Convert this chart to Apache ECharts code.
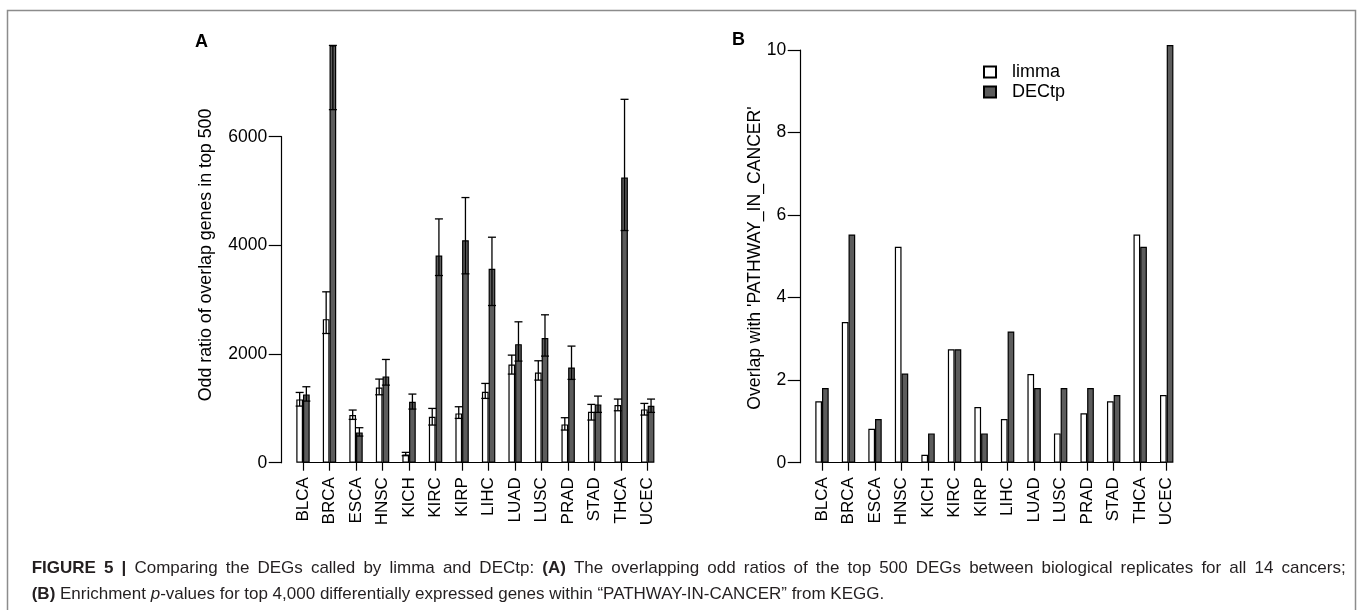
<!DOCTYPE html>
<html>
<head>
<meta charset="utf-8">
<script src="https://cdn.jsdelivr.net/npm/echarts@6/dist/echarts.min.js"></script>
<style>
  html, body { margin: 0; padding: 0; background: #fff; }
  #main { width: 1357px; height: 610px; }
</style>
</head>
<body>
<div id="main"></div>
<script>
// 癌症类型
var cancers = ['BLCA', 'BRCA', 'ESCA', 'HNSC', 'KICH', 'KIRC', 'KIRP', 'LIHC', 'LUAD', 'LUSC', 'PRAD', 'STAD', 'THCA', 'UCEC'];

// A: odd ratio (均值 + 误差上下限)
var oddLimma     = [1165, 2642, 877, 1385, 153, 846, 907, 1306, 1808, 1661, 705, 938, 1060, 981];
var oddLimmaLow  = [1042, 2378, 797, 1250, 129, 693, 815, 1183, 1631, 1520, 601, 785, 956, 877];
var oddLimmaHigh = [1293, 3145, 969, 1539, 190, 999, 1030, 1459, 1980, 1876, 828, 1073, 1171, 1091];
var oddDectp     = [1257, 7680, 558, 1588, 1122, 3813, 4095, 3568, 2182, 2293, 1753, 1073, 5247, 1048];
var oddDectpLow  = [1134, 6498, 490, 1428, 987, 3445, 3476, 2893, 1870, 1962, 1533, 926, 4273, 926];
var oddDectpHigh = [1398, 7680, 644, 1900, 1263, 4487, 4880, 4150, 2593, 2722, 2146, 1226, 6688, 1171];

// B: overlap with PATHWAY_IN_CANCER
var pathLimma = [1.49, 3.41, 0.82, 5.23, 0.19, 2.75, 1.35, 1.06, 2.15, 0.71, 1.20, 1.49, 5.53, 1.64];
var pathDectp = [1.81, 5.53, 1.06, 2.16, 0.71, 2.75, 0.71, 3.18, 1.81, 1.81, 1.81, 1.64, 5.23, 10.12];

var FONT = 'Liberation Sans, Arial, Helvetica, sans-serif';
var BAR_W = 6.7;

function xAxisOf(gridIndex) {
    return {
        type: 'category',
        gridIndex: gridIndex,
        data: cancers,
        boundaryGap: false,
        offset: 3.5,
        axisLine: { lineStyle: { color: '#000', width: 1.2 } },
        axisTick: { length: 8, interval: 0, lineStyle: { color: '#000', width: 1.2 } },
        axisLabel: { interval: 0, rotate: 90, margin: 11, color: '#000', fontSize: 17, fontFamily: FONT },
        splitLine: { show: false }
    };
}

function yAxisOf(gridIndex, max, interval) {
    return {
        type: 'value',
        gridIndex: gridIndex,
        min: 0,
        max: max,
        interval: interval,
        offset: 21.3,
        axisLine: { show: true, lineStyle: { color: '#000', width: 1.2 } },
        axisTick: { show: true, length: 13, lineStyle: { color: '#000', width: 1.2 } },
        axisLabel: {
            margin: 14.5, color: '#000', fontSize: 17.5, fontFamily: FONT,
            formatter: function (v) { return String(v); }
        },
        splitLine: { show: false }
    };
}

function barSeries(name, axisIdx, values, fill) {
    return {
        name: name,
        type: 'bar',
        xAxisIndex: axisIdx,
        yAxisIndex: axisIdx,
        data: values,
        barWidth: BAR_W,
        barGap: '0%',
        clip: false,
        animation: false,
        itemStyle: { color: fill, borderColor: '#000', borderWidth: 1.2 },
        emphasis: { disabled: true }
    };
}

// 误差线: 竖线 + 上下横帽
function errorSeries(axisIdx, low, high, offset) {
    return {
        type: 'custom',
        xAxisIndex: axisIdx,
        yAxisIndex: axisIdx,
        clip: false,
        z: 5,
        animation: false,
        encode: { x: 0, y: [1, 2] },
        data: cancers.map(function (c, i) { return [i, low[i], high[i]]; }),
        renderItem: function (params, api) {
            var lo = api.coord([api.value(0), api.value(1)]);
            var hi = api.coord([api.value(0), api.value(2)]);
            var x = lo[0] + offset;
            var st = { stroke: '#000', lineWidth: 1.3 };
            return {
                type: 'group',
                children: [
                    { type: 'line', shape: { x1: x, y1: hi[1], x2: x, y2: lo[1] }, style: st },
                    { type: 'line', shape: { x1: x - 4, y1: hi[1], x2: x + 4, y2: hi[1] }, style: st },
                    { type: 'line', shape: { x1: x - 4, y1: lo[1], x2: x + 4, y2: lo[1] }, style: st }
                ]
            };
        }
    };
}

// 图注: 第一行两端对齐
var CAP_SIZE = 17;
var CAP_COLOR = '#231f20';
var capRich = {
    b: { fontSize: CAP_SIZE, fontWeight: 'bold', fontFamily: FONT, fill: CAP_COLOR },
    n: { fontSize: CAP_SIZE, fontFamily: FONT, fill: CAP_COLOR },
    i: { fontSize: CAP_SIZE, fontStyle: 'italic', fontFamily: FONT, fill: CAP_COLOR }
};
var measureCtx = document.createElement('canvas').getContext('2d');
function capFont(st) {
    return (st === 'b' ? 'bold ' : st === 'i' ? 'italic ' : '') + CAP_SIZE + 'px ' + FONT;
}
function justifyLine(parts, target) {
    var words = [];
    parts.forEach(function (p) {
        p[1].split(' ').forEach(function (w) { if (w) words.push([p[0], w]); });
    });
    var total = 0;
    words.forEach(function (w) {
        measureCtx.font = capFont(w[0]);
        total += measureCtx.measureText(w[1]).width;
    });
    var gap = (target - total) / (words.length - 1);
    var rich = Object.assign({ s: { width: gap, fontSize: CAP_SIZE, fontFamily: FONT } }, capRich);
    return {
        text: words.map(function (w) { return '{' + w[0] + '|' + w[1] + '}'; }).join('{s| }'),
        rich: rich
    };
}
var cap1 = justifyLine([
    ['b', 'FIGURE 5 |'],
    ['n', 'Comparing the DEGs called by limma and DECtp:'],
    ['b', '(A)'],
    ['n', 'The overlapping odd ratios of the top 500 DEGs between biological replicates for all 14 cancers;']
], 1314);

var chart = echarts.init(document.getElementById('main'), null, { renderer: 'canvas' });

chart.setOption({
    animation: false,
    grid: [
        { left: 303, width: 344.7, top: 136.7, bottom: 147.3 },
        { left: 822, width: 344.7, top: 50, bottom: 147.3 }
    ],
    xAxis: [xAxisOf(0), xAxisOf(1)],
    yAxis: [yAxisOf(0, 6000, 2000), yAxisOf(1, 10, 2)],
    legend: {
        data: ['limma', 'DECtp'],
        orient: 'vertical',
        left: 983,
        top: 63,
        padding: 0,
        itemWidth: 12,
        itemHeight: 11,
        itemGap: 2,
        icon: 'rect',
        selectedMode: false,
        textStyle: { color: '#000', fontSize: 18, fontFamily: FONT, lineHeight: 16, padding: [0, 0, 0, 11] }
    },
    series: [
        barSeries('limma', 0, oddLimma, '#fff'),
        barSeries('DECtp', 0, oddDectp, '#5c5c5c'),
        errorSeries(0, oddLimmaLow, oddLimmaHigh, -BAR_W / 2),
        errorSeries(0, oddDectpLow, oddDectpHigh, BAR_W / 2),
        barSeries('limma', 1, pathLimma, '#fff'),
        barSeries('DECtp', 1, pathDectp, '#5c5c5c')
    ],
    graphic: [
        // 外框
        { type: 'rect', shape: { x: 7.5, y: 10.5, width: 1348, height: 700 },
          style: { fill: 'none', stroke: '#8c8c8c', lineWidth: 1.5 }, silent: true },
        // 面板标签
        { type: 'text', x: 195, y: 33, style: { text: 'A', font: 'bold 18px ' + FONT, fill: '#000' } },
        { type: 'text', x: 732, y: 31, style: { text: 'B', font: 'bold 18px ' + FONT, fill: '#000' } },
        // y轴标题
        { type: 'text', x: 206, y: 255, rotation: Math.PI / 2,
          style: { text: 'Odd ratio of overlap genes in top 500', font: '17.8px ' + FONT, fill: '#000',
                   align: 'center', verticalAlign: 'middle' } },
        { type: 'text', x: 755.5, y: 258, rotation: Math.PI / 2,
          style: { text: "Overlap with 'PATHWAY_IN_CANCER'", font: '17.6px ' + FONT, fill: '#000',
                   align: 'center', verticalAlign: 'middle' } },
        // 图注
        { type: 'text', x: 31.7, y: 568,
          style: { text: cap1.text, rich: cap1.rich, verticalAlign: 'middle' } },
        { type: 'text', x: 31.7, y: 594,
          style: {
              text: '{b|(B)}{n| Enrichment }{i|p}{n|-values for top 4,000 differentially expressed genes within \u201cPATHWAY-IN-CANCER\u201d from KEGG.}',
              verticalAlign: 'middle',
              rich: capRich
          } }
    ]
});
</script>
</body>
</html>
